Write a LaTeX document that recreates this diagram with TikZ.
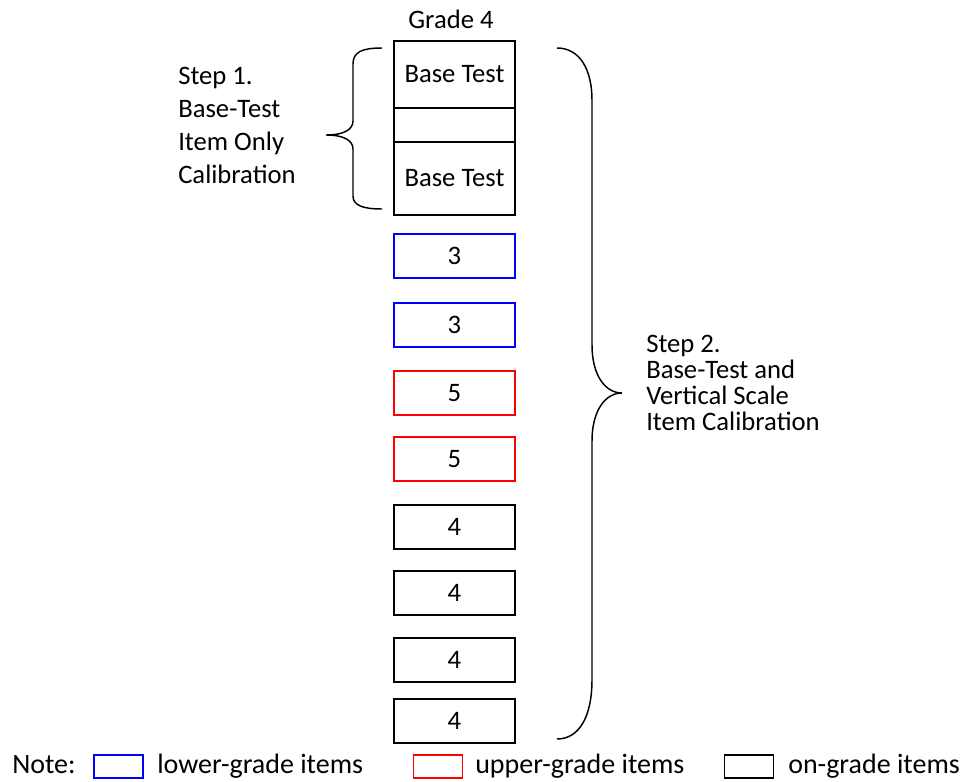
\documentclass[tikz,border=0pt]{standalone}
\usepackage{fontspec}
\setmainfont{Carlito}
\usepackage{tikz}
\tikzset{%
  mybox/.style={draw=black, line width=1.4pt, minimum width=90.75pt, inner sep=0pt},
  mybrace/.style={line width=1.1pt},
  mytext/.style={font=\fontsize{20}{23}\selectfont, inner sep=0pt}
}

\begin{document}
\begin{tikzpicture}[x=0.75pt, y=-0.75pt]
\useasboundingbox (0,0) rectangle (972,782);

\node [mytext, anchor=base] (G) at (451,28) {Grade 4};

% base test column
\node [mybox, mytext, minimum height=50.25pt] (B1) at (454.5,74.5) {Base Test};
\node [mybox, minimum height=25.5pt] (B2) at (454.5,125) {};
\node [mybox, mytext, minimum height=54.75pt] (B3) at (454.5,178.5) {Base Test};

% item blocks
\foreach \n / \y / \col / \g in {1/256/blue/3, 2/325/blue/3, 3/393/red/5, 4/459/red/5,
                                 5/527/black/4, 6/593/black/4, 7/660/black/4, 8/721/black/4} {
  \node [mybox, mytext, draw=\col, minimum height=33pt] (I\n) at (454.5,\y) {\g};
}

% step 1
\draw [mybrace] (382,48) .. controls (362,48) and (353,52) .. (353,64) -- (353,121)
  .. controls (353,130) and (343,135) .. (326,135) .. controls (343,135) and (353,140) .. (353,149)
  -- (353,196) .. controls (353,205) and (362,209) .. (382,209);
\node [mytext, font=\fontsize{20}{24.75}\selectfont, align=left, anchor=north west] (S1) at (178,67)
  {Step 1.\\Base-Test\\Item Only\\Calibration};

% step 2
\draw [mybrace] (557,48) .. controls (580,48) and (592,70) .. (592,100) -- (592,345)
  .. controls (592,375) and (605,393) .. (622,393) .. controls (605,393) and (592,411) .. (592,441)
  -- (592,680) .. controls (592,715) and (580,739) .. (557,739);
\node [mytext, font=\fontsize{20}{19.5}\selectfont, align=left, anchor=north west] (S2) at (646,335)
  {Step 2.\\Base-Test and\\Vertical Scale\\Item Calibration};

% legend
\node [mytext, font=\fontsize{21}{25}\selectfont, anchor=base west] (N) at (12,773) {Note:};
\foreach \n / \x / \col / \tx / \lab in {1/118.5/blue/157/lower-grade items,
                                         2/438/red/475/upper-grade items,
                                         3/749/black/788/on-grade items} {
  \node [mybox, draw=\col, minimum width=36.75pt, minimum height=17.25pt] (L\n) at (\x,766.5) {};
  \node [mytext, font=\fontsize{21}{25}\selectfont, anchor=base west] (T\n) at (\tx,773) {\lab};
}

\end{tikzpicture}
\end{document}
